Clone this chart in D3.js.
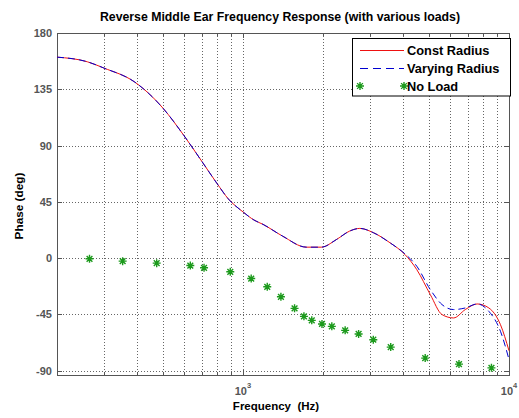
<!DOCTYPE html>
<html>
<head>
<meta charset="utf-8">
<script src="https://cdn.jsdelivr.net/npm/d3@7"></script>
<style>
  body { margin: 0; background: #fff; }
  svg text { font-family: "Liberation Sans", Arial, sans-serif; font-weight: bold; }
  .grid line { stroke: #666; stroke-width: 1; stroke-dasharray: 1,2; }
  .tick-label { fill: #555; font-size: 11px; }
</style>
</head>
<body>
<div id="phase-vis"></div>
<script>
// Frequencies (Hz) sampled along the two load curves
var freqs = [200, 260, 300, 390, 500, 600, 700, 800, 880, 1000, 1100, 1190, 1410, 1730,
  1970, 2250, 2520, 2750, 3090, 3570, 4060, 4500, 5060, 5600, 6190, 6850, 7590, 8400, 9290, 10000];
// Phase (deg)
var constRadius = [160.7, 157.0, 152.0, 141.1, 120.0, 98.0, 77.5, 59.5, 47.5, 37.0, 30.5, 27.0, 17.6, 8.8,
  8.8, 15.0, 21.7, 23.8, 20.4, 12.3, 3.0, -9.1, -29.1, -45.1, -47.8, -41.1, -36.6, -39.8, -53.2, -74.0];
var varyingRadius = [160.7, 157.0, 152.0, 141.1, 120.0, 98.0, 77.5, 59.5, 47.5, 37.0, 30.5, 27.0, 17.6, 8.8,
  8.8, 15.0, 21.7, 23.8, 20.4, 12.3, 3.5, -6.4, -25.1, -37.1, -41.1, -39.8, -36.6, -42.5, -58.5, -81.0];

// No load measurements (stars)
var noLoadFreqs = [265, 353, 474, 634, 714, 896, 1074, 1234, 1389, 1563, 1695, 1814, 1982, 2158,
  2422, 2721, 3090, 3593, 4842, 6486, 8590];
var noLoad = [-0.5, -2.4, -4.0, -5.9, -7.7, -10.9, -16.3, -22.9, -30.9, -40.1, -46.5, -49.7, -52.6, -54.5,
  -57.7, -60.6, -65.2, -71.1, -79.9, -84.7, -87.7];

var yTicks = [-90, -45, 0, 45, 90, 135, 180];
var xMajorTicks = [1000, 10000];
var xMajorLabels = ['3', '4'];
var xGridTicks = [300, 400, 500, 600, 700, 800, 900, 1000, 2000, 3000, 4000, 5000, 6000, 7000, 8000, 9000];
var legendLabels = ['Const Radius', 'Varying Radius', 'No Load'];

var W = 519, H = 418;
var margin = {top: 33, left: 57, right: 10, bottom: 43};
var width = W - margin.left - margin.right;
var height = H - margin.top - margin.bottom;

var svg = d3.select('#phase-vis').append('svg')
    .attr('width', W)
    .attr('height', H);

var g = svg.append('g')
    .attr('transform', 'translate(' + margin.left + ',' + margin.top + ')');

var x = d3.scaleLog()
    .domain([200, 10000])
    .range([0, width]);
var y = d3.scaleLinear()
    .domain([-93.4, 180])
    .range([height, 0]);

var px = function(v) { return Math.round(v) + 0.5; };

// Grid
var grid = g.append('g').attr('class', 'grid');
grid.selectAll('.vgrid')
    .data(xGridTicks)
    .enter().append('line')
      .attr('x1', d => px(x(d)))
      .attr('x2', d => px(x(d)))
      .attr('y1', 0)
      .attr('y2', height);
grid.selectAll('.hgrid')
    .data(yTicks)
    .enter().append('line')
      .attr('x1', 0)
      .attr('x2', width)
      .attr('y1', d => px(y(d)))
      .attr('y2', d => px(y(d)));

// Inward ticks on all sides
var ticks = g.append('g').attr('stroke', '#555').attr('stroke-width', 1);
xGridTicks.concat([10000]).forEach(function(d) {
  var len = xMajorTicks.indexOf(d) >= 0 ? 5 : 3;
  ticks.append('line').attr('x1', px(x(d))).attr('x2', px(x(d))).attr('y1', height).attr('y2', height - len);
  ticks.append('line').attr('x1', px(x(d))).attr('x2', px(x(d))).attr('y1', 0).attr('y2', len);
});
yTicks.forEach(function(d) {
  ticks.append('line').attr('x1', 0).attr('x2', 5).attr('y1', px(y(d))).attr('y2', px(y(d)));
  ticks.append('line').attr('x1', width - 5).attr('x2', width).attr('y1', px(y(d))).attr('y2', px(y(d)));
});

// Axes box
g.append('rect')
    .attr('x', 0.5)
    .attr('y', 0.5)
    .attr('width', width)
    .attr('height', height)
    .attr('fill', 'none')
    .attr('stroke', '#555');

// Tick labels
g.selectAll('.ylab')
    .data(yTicks)
    .enter().append('text')
      .attr('class', 'tick-label')
      .attr('x', -5)
      .attr('y', d => y(d))
      .attr('dy', '0.36em')
      .attr('text-anchor', 'end')
      .text(d => d);

var xl = g.selectAll('.xlab')
    .data(xMajorTicks)
    .enter().append('text')
      .attr('class', 'tick-label')
      .attr('x', d => x(d))
      .attr('y', height + 20)
      .attr('text-anchor', 'middle');
xl.append('tspan').text('10');
xl.append('tspan')
    .attr('dy', -7)
    .style('font-size', '7.5px')
    .text((d, i) => xMajorLabels[i]);

// Curves
var line = d3.line()
    .x(d => x(d[0]))
    .y(d => y(d[1]))
    .curve(d3.curveMonotoneX);

var curves = g.append('g').attr('class', 'curves');
curves.append('path')
    .datum(freqs.map((f, i) => [f, constRadius[i]]))
    .attr('d', line)
    .attr('fill', 'none')
    .attr('stroke', '#ee1111')
    .attr('stroke-width', 1);
curves.append('path')
    .datum(freqs.map((f, i) => [f, varyingRadius[i]]))
    .attr('d', line)
    .attr('fill', 'none')
    .attr('stroke', '#0000d0')
    .attr('stroke-width', 1)
    .attr('stroke-dasharray', '7,4');

// Star marker like matlab '*'
var starPath = function(s) {
  var a = s * 0.72;
  return 'M' + (-s) + ',0H' + s + 'M0,' + (-s) + 'V' + s +
      'M' + (-a) + ',' + (-a) + 'L' + a + ',' + a +
      'M' + (-a) + ',' + a + 'L' + a + ',' + (-a);
};

g.append('g').attr('class', 'stars')
    .selectAll('path')
    .data(noLoadFreqs.map((f, i) => [f, noLoad[i]]))
    .enter().append('path')
      .attr('transform', d => 'translate(' + x(d[0]) + ',' + y(d[1]) + ')')
      .attr('d', starPath(4))
      .attr('fill', 'none')
      .attr('stroke', '#1c9a1c')
      .attr('stroke-width', 1.4);

// Legend
var legend = svg.append('g').attr('transform', 'translate(352,38)');
legend.append('rect')
    .attr('x', 0.5)
    .attr('y', 0.5)
    .attr('width', 158)
    .attr('height', 57.5)
    .attr('fill', '#fff')
    .attr('stroke', '#000');

var rowY = [12, 30, 48];
legend.append('line')
    .attr('x1', 8).attr('x2', 52)
    .attr('y1', rowY[0] + 0.5).attr('y2', rowY[0] + 0.5)
    .attr('stroke', '#ee1111');
legend.append('line')
    .attr('x1', 8).attr('x2', 52)
    .attr('y1', rowY[1] + 0.5).attr('y2', rowY[1] + 0.5)
    .attr('stroke', '#0000d0')
    .attr('stroke-dasharray', '8,5');
[8, 52].forEach(function(sx) {
  legend.append('path')
      .attr('transform', 'translate(' + sx + ',' + rowY[2] + ')')
      .attr('d', starPath(4))
      .attr('fill', 'none')
      .attr('stroke', '#1c9a1c')
      .attr('stroke-width', 1.4);
});
legend.selectAll('.leg-text')
    .data(legendLabels)
    .enter().append('text')
      .attr('x', 55)
      .attr('y', (d, i) => rowY[i] + 4.5)
      .style('font-size', '12.8px')
      .attr('fill', '#000')
      .text(d => d);

// Title and axis labels
svg.append('text')
    .attr('x', 280)
    .attr('y', 21)
    .attr('text-anchor', 'middle')
    .style('font-size', '12.3px')
    .text('Reverse Middle Ear Frequency Response (with various loads)');

svg.append('text')
    .attr('x', 276)
    .attr('y', 410)
    .attr('text-anchor', 'middle')
    .style('font-size', '11.5px')
    .style('white-space', 'pre')
    .text('Frequency  (Hz)');

svg.append('text')
    .attr('transform', 'translate(23,206) rotate(-90)')
    .attr('text-anchor', 'middle')
    .style('font-size', '11.8px')
    .text('Phase (deg)');
</script>
</body>
</html>
